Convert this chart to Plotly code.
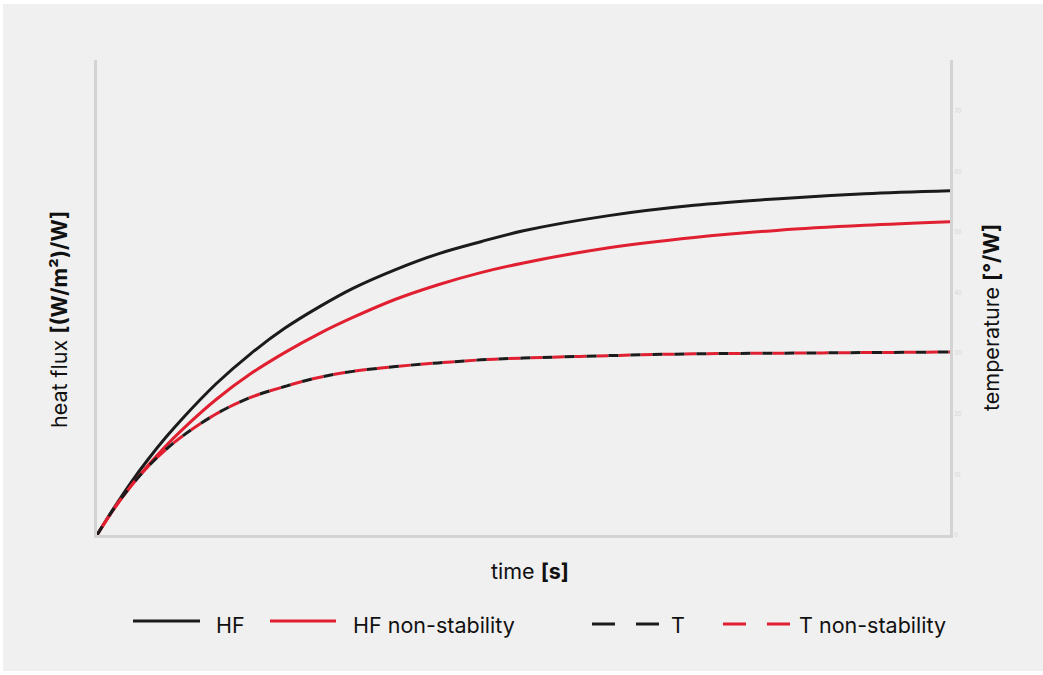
import plotly.graph_objects as go

# ---- data ----
time_s = [0, 2, 4, 6, 8, 10, 14, 18, 22, 26, 30, 35, 40, 45, 50, 60, 70, 80, 90, 100]
hf = [0, 4.5, 8.7, 12.5, 16.0, 19.2, 25.0, 29.9, 34.1, 37.6, 40.7, 43.8, 46.4, 48.4, 50.2, 52.7, 54.4, 55.5, 56.3, 56.8]
hf_non_stability = [0, 4.3, 8.1, 11.5, 14.6, 17.4, 22.4, 26.6, 30.1, 33.2, 35.9, 38.9, 41.3, 43.3, 44.9, 47.4, 49.1, 50.3, 51.1, 51.7]
temp = [0, 4.4, 8.1, 11.3, 14.0, 16.3, 20.0, 22.7, 24.5, 26.0, 27.0, 27.8, 28.4, 28.9, 29.2, 29.6, 29.9, 30.0, 30.1, 30.2]
temp_non_stability = list(temp)
right_ticks = [0, 10, 20, 30, 40, 50, 60, 70]

BLACK = "#1b1b1b"
RED = "#e01f30"
AXIS = "#d3d3d3"
PANEL = "#f0f0f0"
FONT = "Inter"

W, H = 1043, 675
L, R, T, B = 97, 93, 60, 140
PW, PH = W - L - R, H - T - B


def px(x):
    return (x - L) / PW


def py(y):
    return (H - B - y) / PH


fig = go.Figure()
fig.add_trace(go.Scatter(x=time_s, y=hf, mode="lines", line=dict(color=BLACK, width=3, shape="spline"),
                         name="HF", showlegend=False))
fig.add_trace(go.Scatter(x=time_s, y=hf_non_stability, mode="lines", line=dict(color=RED, width=3, shape="spline"),
                         name="HF non-stability", showlegend=False))
fig.add_trace(go.Scatter(x=time_s, y=temp_non_stability, mode="lines",
                         line=dict(color=RED, width=3, shape="spline", dash="0px,10px,12px,0px"),
                         name="T non-stability", showlegend=False))
fig.add_trace(go.Scatter(x=time_s, y=temp, mode="lines",
                         line=dict(color=BLACK, width=3, shape="spline", dash="10px,12px"),
                         name="T", showlegend=False))
# invisible trace to activate right axis
fig.add_trace(go.Scatter(x=[None], y=[None], yaxis="y2", showlegend=False, hoverinfo="skip"))

ymax = PH / 6.06

shapes = [
    dict(type="rect", xref="paper", yref="paper", x0=px(3), x1=px(1043), y0=py(671), y1=py(4),
         fillcolor=PANEL, line=dict(width=0), layer="below"),
]

# custom legend
leg_y_solid = py(621)
leg_y_dash = py(624)
shapes += [
    dict(type="line", xref="paper", yref="paper", x0=px(133), x1=px(200), y0=leg_y_solid, y1=leg_y_solid,
         line=dict(color=BLACK, width=3)),
    dict(type="line", xref="paper", yref="paper", x0=px(270), x1=px(336), y0=leg_y_solid, y1=leg_y_solid,
         line=dict(color=RED, width=3)),
    dict(type="line", xref="paper", yref="paper", x0=px(592), x1=px(615), y0=leg_y_dash, y1=leg_y_dash,
         line=dict(color=BLACK, width=3)),
    dict(type="line", xref="paper", yref="paper", x0=px(636), x1=px(659), y0=leg_y_dash, y1=leg_y_dash,
         line=dict(color=BLACK, width=3)),
    dict(type="line", xref="paper", yref="paper", x0=px(723), x1=px(746), y0=leg_y_dash, y1=leg_y_dash,
         line=dict(color=RED, width=3)),
    dict(type="line", xref="paper", yref="paper", x0=px(767), x1=px(790), y0=leg_y_dash, y1=leg_y_dash,
         line=dict(color=RED, width=3)),
]

txt = dict(family=FONT, size=21.5, color="#111111")
ann = [
    dict(text="HF", x=px(214), y=py(625), xref="paper", yref="paper", xanchor="left", yanchor="middle",
         showarrow=False, font=txt),
    dict(text="HF non-stability", x=px(351), y=py(625), xref="paper", yref="paper", xanchor="left",
         yanchor="middle", showarrow=False, font=txt),
    dict(text="T", x=px(669), y=py(625), xref="paper", yref="paper", xanchor="left", yanchor="middle",
         showarrow=False, font=txt),
    dict(text="T non-stability", x=px(797), y=py(625), xref="paper", yref="paper", xanchor="left",
         yanchor="middle", showarrow=False, font=txt),
    dict(text="time <b>[s]</b>", x=px(530), y=py(571), xref="paper", yref="paper", xanchor="center",
         yanchor="middle", showarrow=False, font=txt),
    dict(text="heat flux <b>[(W/m²)/W]</b>", x=px(59), y=py(320), xref="paper", yref="paper", xanchor="center",
         yanchor="middle", showarrow=False, textangle=-90, font=txt),
    dict(text="temperature <b>[°/W]</b>", x=px(991), y=py(318), xref="paper", yref="paper", xanchor="center",
         yanchor="middle", showarrow=False, textangle=-90, font=txt),
]

fig.update_layout(
    width=W, height=H,
    margin=dict(l=L, r=R, t=T, b=B, pad=0),
    paper_bgcolor="white",
    plot_bgcolor="rgba(0,0,0,0)",
    showlegend=False,
    shapes=shapes,
    annotations=ann,
    font=dict(family=FONT),
    xaxis=dict(range=[0, 100], showgrid=False, zeroline=False, showticklabels=False, ticks="",
               showline=True, linecolor=AXIS, linewidth=3, fixedrange=True),
    yaxis=dict(range=[0, ymax], showgrid=False, zeroline=False, showticklabels=False, ticks="",
               showline=True, linecolor=AXIS, linewidth=3),
    yaxis2=dict(range=[0, ymax], overlaying="y", side="right", showgrid=False, zeroline=False,
                tickvals=right_ticks, ticktext=[str(v) for v in right_ticks], ticks="",
                tickfont=dict(size=6, color="#d6d6d6", family=FONT),
                showline=True, linecolor=AXIS, linewidth=3),
)

fig.write_html("out.html", config={"displayModeBar": False},
               post_script="document.body.style.margin='0';document.body.style.overflow='hidden';")
